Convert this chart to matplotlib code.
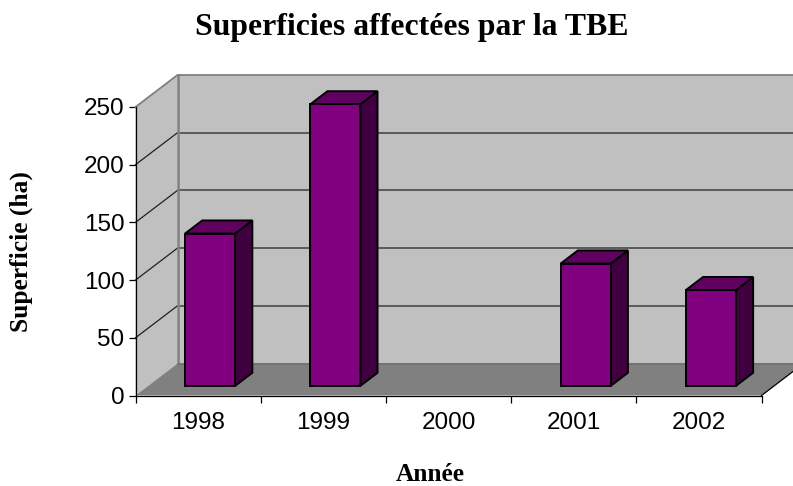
import matplotlib
matplotlib.use('Agg')
import matplotlib.pyplot as plt
from matplotlib.patches import Polygon

# valeurs
annees = ['1998', '1999', '2000', '2001', '2002']
superficies = [132, 244, 0, 106, 83]
graduations = [0, 50, 100, 150, 200, 250]

W, H = 793, 486
dx = 42 / 125.2    # profondeur du plancher, en categories
dy = 32 / 1.154    # profondeur du plancher, en ha
larg = 0.4

fig = plt.figure(figsize=(W / 100, H / 100), dpi=100)
ax = fig.add_axes([135.5 / W, (H - 395.5) / H, 626 / W, 288.5 / H])
ax.set_xlim(0, 5)
ax.set_ylim(0, 250)

# murs et plancher
ax.add_patch(Polygon([(0, 0), (dx, dy), (dx, 250 + dy), (0, 250)], fc='#c0c0c0', ec='none', zorder=1, clip_on=False))
ax.add_patch(Polygon([(dx, dy), (5 + dx, dy), (5 + dx, 250 + dy), (dx, 250 + dy)], fc='#c0c0c0', ec='none', zorder=1, clip_on=False))
ax.add_patch(Polygon([(0, 0), (5, 0), (5 + dx, dy), (dx, dy)], fc='#808080', ec='none', zorder=1, clip_on=False))

for g in graduations[1:-1]:
    ax.plot([0, dx], [g, g + dy], color='#202020', lw=0.9, zorder=2, clip_on=False)
    ax.plot([dx, 5 + dx], [g + dy, g + dy], color='#404040', lw=1.1, zorder=2, clip_on=False)
ax.plot([0, dx, 5 + dx], [250, 250 + dy, 250 + dy], color='#808080', lw=1.3, zorder=2, clip_on=False)
ax.plot([dx, dx], [dy, 250 + dy], color='#808080', lw=1.8, zorder=2, clip_on=False)
ax.plot([dx, 5 + dx], [dy, dy], color='#707070', lw=1.3, zorder=2, clip_on=False)
ax.plot([5, 5 + dx], [0, dy], color='black', lw=0.9, zorder=3, clip_on=False)

# barres
pos = [i + 0.5 + 0.285 * dx for i in range(len(annees))]
lift = 0.3 * dy
bx = 0.41 * dx
by = 0.41 * dy
for x, v in zip(pos, superficies):
    if v == 0:
        continue
    g, d = x - larg / 2, x + larg / 2
    haut = v + lift
    ax.add_patch(Polygon([(d, lift), (d + bx, lift + by), (d + bx, haut + by), (d, haut)],
                         fc='#400040', ec='black', lw=1.4, zorder=4, joinstyle='miter', clip_on=False))
    ax.add_patch(Polygon([(g, haut), (d, haut), (d + bx, haut + by), (g + bx, haut + by)],
                         fc='#600060', ec='black', lw=1.4, zorder=4, joinstyle='miter', clip_on=False))
heights = [v if v else float('nan') for v in superficies]
ax.bar(pos, heights, larg, bottom=lift, color='#800080', edgecolor='black', linewidth=1.4, zorder=5, clip_on=False)

for s in ['top', 'right']:
    ax.spines[s].set_visible(False)
for s in ['left', 'bottom']:
    ax.spines[s].set_linewidth(0.9)
    ax.spines[s].set_zorder(6)

ax.set_yticks(graduations)
ax.set_xticks(range(6))
ax.set_xticklabels([])
ax.set_xticks([i + 0.5 for i in range(5)], minor=True)
ax.set_xticklabels(annees, minor=True)
ax.tick_params(axis='x', which='minor', length=0, pad=12, labelsize=17.5)
ax.tick_params(axis='x', which='major', length=5, width=0.9)
ax.tick_params(axis='y', length=5, width=0.9, pad=3, labelsize=17.5)
for lab in ax.get_xticklabels(minor=True) + ax.get_yticklabels():
    lab.set_family('Liberation Sans')

serif = dict(family='Liberation Serif', fontweight='bold', ha='center', va='center', color='black')
fig.text(412 / W, 1 - 28 / H, 'Superficies affectées par la TBE', fontsize=22.9, **serif)
fig.text(21 / W, 1 - 251.5 / H, 'Superficie (ha)', fontsize=18.4, rotation=90, **serif)
fig.text(430 / W, 1 - 474 / H, 'Année', fontsize=18.3, **serif)

fig.savefig('out.png', dpi=100)
